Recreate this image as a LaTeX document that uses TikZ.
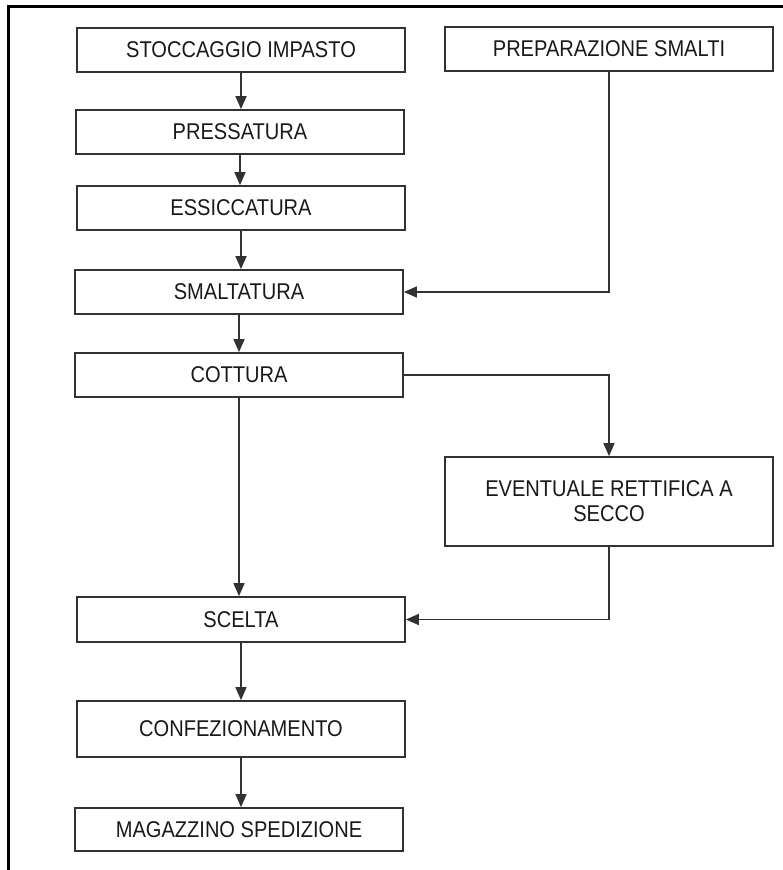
\documentclass[tikz,border=0pt]{standalone}
\usepackage{fontspec}
\setmainfont{Liberation Sans}[FakeStretch=0.88]
\usepackage{tikz}
\usetikzlibrary{arrows.meta,positioning}
\definecolor{boxline}{RGB}{50, 50, 50}
\definecolor{boxtext}{RGB}{25, 25, 25}

\tikzset{
    phase/.style={draw=boxline, line width=1.7pt, fill=white, text=boxtext,
        minimum width=328pt, minimum height=44pt, inner sep=0pt,
        font=\fontsize{22.8}{25}\selectfont, align=center},
    flow/.style={->, draw=boxline, line width=1.6pt}
}

\begin{document}
\begin{tikzpicture}[x=1pt, y=-1pt, >={Triangle[length=13pt, width=11pt]}]
        \useasboundingbox (0,0) rectangle (783,870);
        % frame (top and left side only)
        \draw[line width=3pt, black] (783,6) -- (8,6) -- (8,870);

        % main line
        \node[phase] (stoccaggio) at (241, 50) {STOCCAGGIO IMPASTO};
        \node[phase] (pressatura) at (240, 132) {PRESSATURA};
        \node[phase] (essiccatura) at (241, 208) {ESSICCATURA};
        \node[phase] (smaltatura) at (239, 292) {SMALTATURA};
        \node[phase] (cottura) at (239, 375) {COTTURA};
        \node[phase, minimum height=45pt] (scelta) at (241, 619.5) {SCELTA};
        \node[phase, minimum height=56pt] (confezionamento) at (241, 729) {CONFEZIONAMENTO};
        \node[phase, minimum height=43pt] (magazzino) at (239, 829.5) {MAGAZZINO SPEDIZIONE};

        % side branch
        \node[phase] (smalti) at (609, 49) {PREPARAZIONE SMALTI};
        \node[phase, minimum height=89pt] (rettifica) at (609, 501.5) {EVENTUALE RETTIFICA A\\SECCO};

        % connectors
        \draw[flow] (stoccaggio.south) -- (stoccaggio.south |- pressatura.north);
        \draw[flow] (pressatura.south) -- (pressatura.south |- essiccatura.north);
        \draw[flow] (essiccatura.south) -- (essiccatura.south |- smaltatura.north);
        \draw[flow] (smaltatura.south) -- (smaltatura.south |- cottura.north);
        \draw[flow] (cottura.south) -- (cottura.south |- scelta.north);
        \draw[flow] (scelta.south) -- (scelta.south |- confezionamento.north);
        \draw[flow] (confezionamento.south) -- (confezionamento.south |- magazzino.north);
        \draw[flow] (smalti.south) |- (smaltatura.east);
        \draw[flow] (cottura.east) -| (rettifica.north);
        \draw[flow] (rettifica.south) |- (scelta.east);
    \end{tikzpicture}
\end{document}
